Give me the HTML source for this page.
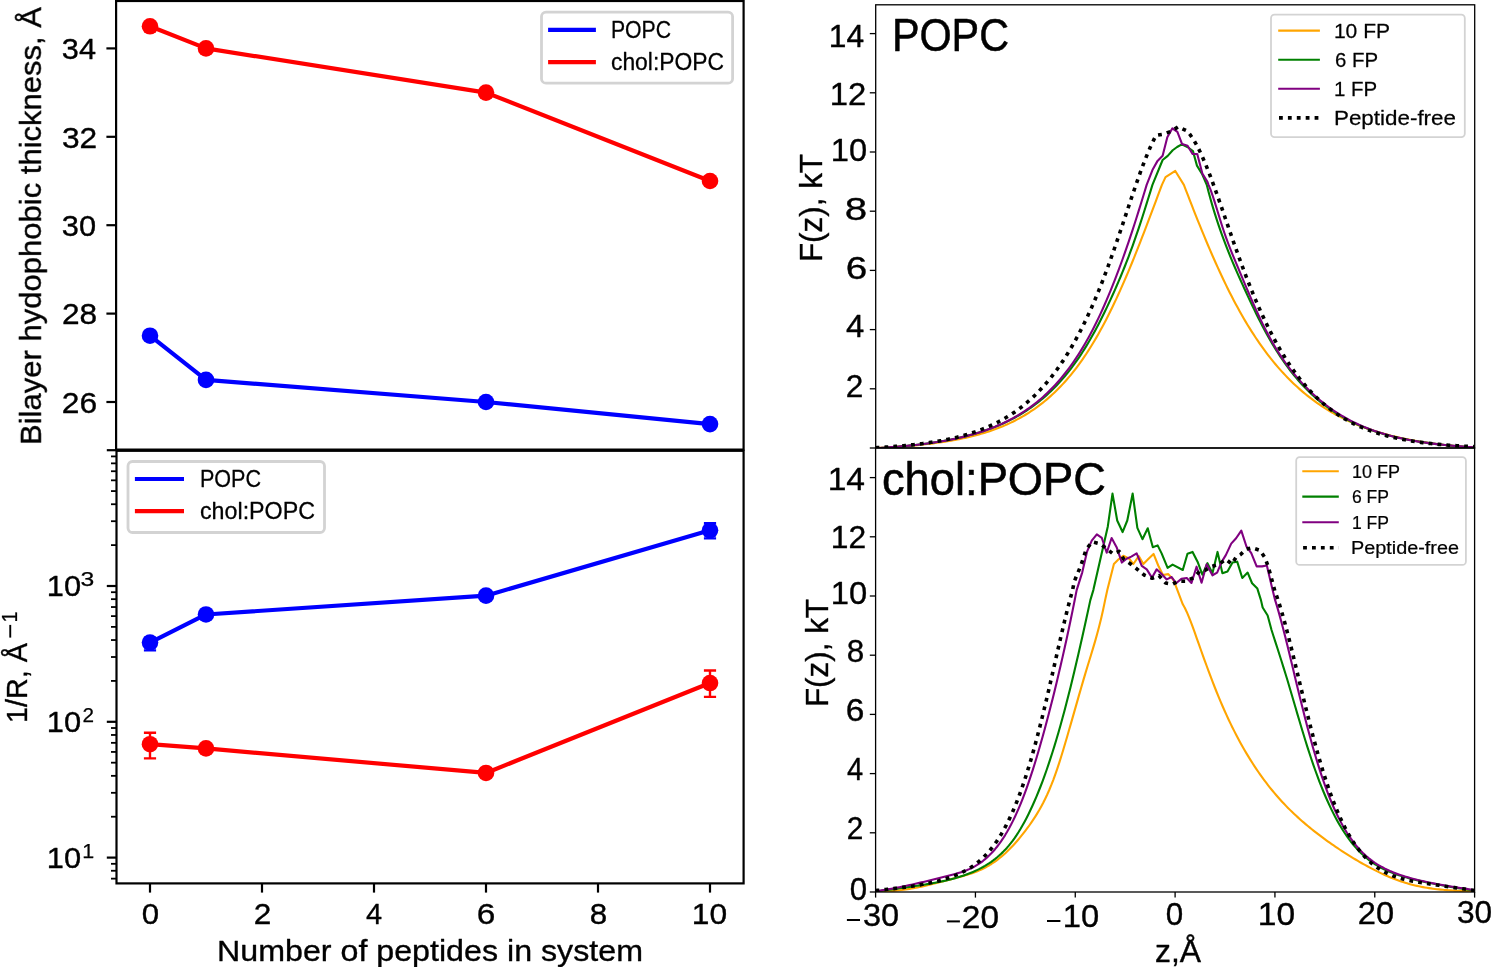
<!DOCTYPE html>
<html><head><meta charset="utf-8"><title>Figure</title><style>html,body{margin:0;padding:0;background:#fff;}svg{display:block;}text{font-family:"Liberation Sans",sans-serif;}</style></head><body>
<svg width="1492" height="967" viewBox="0 0 1492 967"><rect x="0" y="0" width="1492" height="967" fill="#fff"/>
<defs><clipPath id="cTL"><rect x="116" y="0" width="628" height="450"/></clipPath><clipPath id="cBL"><rect x="116" y="450" width="628" height="434"/></clipPath><clipPath id="cTR"><rect x="875.6" y="4.8" width="599" height="443.2"/></clipPath><clipPath id="cBR"><rect x="875.6" y="448" width="599" height="444"/></clipPath></defs>
<polyline points="150,335.7 206,379.9 486,402 710,424.1" fill="none" stroke="#0000ff" stroke-width="4.2" stroke-linejoin="round" stroke-linecap="butt"/>
<circle cx="150" cy="335.7" r="8.3" fill="#0000ff"/>
<circle cx="206" cy="379.9" r="8.3" fill="#0000ff"/>
<circle cx="486" cy="402" r="8.3" fill="#0000ff"/>
<circle cx="710" cy="424.1" r="8.3" fill="#0000ff"/>
<polyline points="150,26.3 206,48.4 486,92.6 710,181" fill="none" stroke="#ff0000" stroke-width="4.2" stroke-linejoin="round" stroke-linecap="butt"/>
<circle cx="150" cy="26.3" r="8.3" fill="#ff0000"/>
<circle cx="206" cy="48.4" r="8.3" fill="#ff0000"/>
<circle cx="486" cy="92.6" r="8.3" fill="#ff0000"/>
<circle cx="710" cy="181" r="8.3" fill="#ff0000"/>
<line x1="106.4" y1="402" x2="116" y2="402" stroke="#000" stroke-width="2.2"/>
<line x1="106.4" y1="313.6" x2="116" y2="313.6" stroke="#000" stroke-width="2.2"/>
<line x1="106.4" y1="225.2" x2="116" y2="225.2" stroke="#000" stroke-width="2.2"/>
<line x1="106.4" y1="136.8" x2="116" y2="136.8" stroke="#000" stroke-width="2.2"/>
<line x1="106.4" y1="48.4" x2="116" y2="48.4" stroke="#000" stroke-width="2.2"/>
<rect x="541.5" y="12.1" width="191.1" height="71.1" rx="4.5" fill="#fff" stroke="#d3d3d3" stroke-width="2.8"/>
<line x1="548.1" y1="29.9" x2="595.9" y2="29.9" stroke="#0000ff" stroke-width="4.2"/>
<line x1="548.1" y1="62.1" x2="595.9" y2="62.1" stroke="#ff0000" stroke-width="4.2"/>
<rect x="116.1" y="1.0" width="627.5" height="448.6" fill="none" stroke="#000" stroke-width="2.2"/>
<polyline points="150,642.6 206,614.48 486,595.65 710,530.33" fill="none" stroke="#0000ff" stroke-width="4.2" stroke-linejoin="round"/>
<path d="M150 637.6V650.4M143.9 637.6H156.1M143.9 650.4H156.1" stroke="#0000ff" stroke-width="2.4" fill="none"/>
<circle cx="150" cy="642.6" r="8.3" fill="#0000ff"/>
<circle cx="206" cy="614.48" r="8.3" fill="#0000ff"/>
<circle cx="486" cy="595.65" r="8.3" fill="#0000ff"/>
<path d="M710 523.23V538.33M703.9 523.23H716.1M703.9 538.33H716.1" stroke="#0000ff" stroke-width="2.4" fill="none"/>
<circle cx="710" cy="530.33" r="8.3" fill="#0000ff"/>
<polyline points="150,744.2 206,748.4 486,772.96 710,683.02" fill="none" stroke="#ff0000" stroke-width="4.2" stroke-linejoin="round"/>
<path d="M150 732.8V758.4M143.9 732.8H156.1M143.9 758.4H156.1" stroke="#ff0000" stroke-width="2.4" fill="none"/>
<circle cx="150" cy="744.2" r="8.3" fill="#ff0000"/>
<circle cx="206" cy="748.4" r="8.3" fill="#ff0000"/>
<circle cx="486" cy="772.96" r="8.3" fill="#ff0000"/>
<path d="M710 670.52V696.92M703.9 670.52H716.1M703.9 696.92H716.1" stroke="#ff0000" stroke-width="2.4" fill="none"/>
<circle cx="710" cy="683.02" r="8.3" fill="#ff0000"/>
<line x1="106.8" y1="857.6" x2="116.5" y2="857.6" stroke="#000" stroke-width="2.2"/>
<line x1="106.8" y1="721.8" x2="116.5" y2="721.8" stroke="#000" stroke-width="2.2"/>
<line x1="106.8" y1="586" x2="116.5" y2="586" stroke="#000" stroke-width="2.2"/>
<line x1="106.8" y1="450.2" x2="116.5" y2="450.2" stroke="#000" stroke-width="2.2"/>
<line x1="111.0" y1="878.64" x2="116.5" y2="878.64" stroke="#000" stroke-width="1.8"/>
<line x1="111.0" y1="870.76" x2="116.5" y2="870.76" stroke="#000" stroke-width="1.8"/>
<line x1="111.0" y1="863.81" x2="116.5" y2="863.81" stroke="#000" stroke-width="1.8"/>
<line x1="111.0" y1="816.72" x2="116.5" y2="816.72" stroke="#000" stroke-width="1.8"/>
<line x1="111.0" y1="792.81" x2="116.5" y2="792.81" stroke="#000" stroke-width="1.8"/>
<line x1="111.0" y1="775.84" x2="116.5" y2="775.84" stroke="#000" stroke-width="1.8"/>
<line x1="111.0" y1="762.68" x2="116.5" y2="762.68" stroke="#000" stroke-width="1.8"/>
<line x1="111.0" y1="751.93" x2="116.5" y2="751.93" stroke="#000" stroke-width="1.8"/>
<line x1="111.0" y1="742.84" x2="116.5" y2="742.84" stroke="#000" stroke-width="1.8"/>
<line x1="111.0" y1="734.96" x2="116.5" y2="734.96" stroke="#000" stroke-width="1.8"/>
<line x1="111.0" y1="728.01" x2="116.5" y2="728.01" stroke="#000" stroke-width="1.8"/>
<line x1="111.0" y1="680.92" x2="116.5" y2="680.92" stroke="#000" stroke-width="1.8"/>
<line x1="111.0" y1="657.01" x2="116.5" y2="657.01" stroke="#000" stroke-width="1.8"/>
<line x1="111.0" y1="640.04" x2="116.5" y2="640.04" stroke="#000" stroke-width="1.8"/>
<line x1="111.0" y1="626.88" x2="116.5" y2="626.88" stroke="#000" stroke-width="1.8"/>
<line x1="111.0" y1="616.13" x2="116.5" y2="616.13" stroke="#000" stroke-width="1.8"/>
<line x1="111.0" y1="607.04" x2="116.5" y2="607.04" stroke="#000" stroke-width="1.8"/>
<line x1="111.0" y1="599.16" x2="116.5" y2="599.16" stroke="#000" stroke-width="1.8"/>
<line x1="111.0" y1="592.21" x2="116.5" y2="592.21" stroke="#000" stroke-width="1.8"/>
<line x1="111.0" y1="545.12" x2="116.5" y2="545.12" stroke="#000" stroke-width="1.8"/>
<line x1="111.0" y1="521.21" x2="116.5" y2="521.21" stroke="#000" stroke-width="1.8"/>
<line x1="111.0" y1="504.24" x2="116.5" y2="504.24" stroke="#000" stroke-width="1.8"/>
<line x1="111.0" y1="491.08" x2="116.5" y2="491.08" stroke="#000" stroke-width="1.8"/>
<line x1="111.0" y1="480.33" x2="116.5" y2="480.33" stroke="#000" stroke-width="1.8"/>
<line x1="111.0" y1="471.24" x2="116.5" y2="471.24" stroke="#000" stroke-width="1.8"/>
<line x1="111.0" y1="463.36" x2="116.5" y2="463.36" stroke="#000" stroke-width="1.8"/>
<line x1="111.0" y1="456.41" x2="116.5" y2="456.41" stroke="#000" stroke-width="1.8"/>
<line x1="150" y1="883.4" x2="150" y2="892.6" stroke="#000" stroke-width="2.2"/>
<line x1="262" y1="883.4" x2="262" y2="892.6" stroke="#000" stroke-width="2.2"/>
<line x1="374" y1="883.4" x2="374" y2="892.6" stroke="#000" stroke-width="2.2"/>
<line x1="486" y1="883.4" x2="486" y2="892.6" stroke="#000" stroke-width="2.2"/>
<line x1="598" y1="883.4" x2="598" y2="892.6" stroke="#000" stroke-width="2.2"/>
<line x1="710" y1="883.4" x2="710" y2="892.6" stroke="#000" stroke-width="2.2"/>
<rect x="128.0" y="461.5" width="196.5" height="71.0" rx="4.5" fill="#fff" stroke="#d3d3d3" stroke-width="2.8"/>
<line x1="134.9" y1="479" x2="184" y2="479" stroke="#0000ff" stroke-width="4.2"/>
<line x1="134.9" y1="511.2" x2="184" y2="511.2" stroke="#ff0000" stroke-width="4.2"/>
<rect x="116.5" y="450.8" width="627.1" height="432.6" fill="none" stroke="#000" stroke-width="2.2"/>
<g clip-path="url(#cTR)" fill="none" stroke-linejoin="round"><path d="M875.6 448 L877.59 448 L879.58 447.9 L881.57 447.79 L883.55 447.68 L885.54 447.57 L887.53 447.45 L889.52 447.33 L891.51 447.21 L893.5 447.08 L895.48 446.95 L897.47 446.81 L899.46 446.67 L901.45 446.52 L903.44 446.37 L905.43 446.21 L907.41 446.05 L909.4 445.88 L911.39 445.7 L913.38 445.52 L915.37 445.34 L917.36 445.14 L919.34 444.94 L921.33 444.74 L923.32 444.52 L925.31 444.3 L927.3 444.08 L929.29 443.84 L931.27 443.6 L933.26 443.34 L935.25 443.08 L937.24 442.81 L939.23 442.53 L941.22 442.24 L943.2 441.95 L945.19 441.64 L947.18 441.32 L949.17 440.99 L951.16 440.65 L953.15 440.29 L955.13 439.93 L957.12 439.55 L959.11 439.16 L961.1 438.75 L963.09 438.33 L965.08 437.9 L967.06 437.45 L969.05 436.99 L971.04 436.51 L973.03 436.02 L975.02 435.5 L977.01 434.98 L978.99 434.43 L980.98 433.86 L982.97 433.28 L984.96 432.67 L986.95 432.04 L988.94 431.4 L990.92 430.73 L992.91 430.04 L994.9 429.32 L996.89 428.58 L998.88 427.82 L1000.87 427.03 L1002.85 426.21 L1004.84 425.37 L1006.83 424.5 L1008.82 423.59 L1010.81 422.66 L1012.8 421.7 L1014.78 420.71 L1016.77 419.68 L1018.76 418.62 L1020.75 417.52 L1022.74 416.39 L1024.73 415.23 L1026.71 414.02 L1028.7 412.77 L1030.69 411.49 L1032.68 410.16 L1034.67 408.79 L1036.66 407.37 L1038.64 405.92 L1040.63 404.41 L1042.62 402.86 L1044.61 401.25 L1046.6 399.6 L1048.59 397.9 L1050.57 396.14 L1052.56 394.32 L1054.55 392.46 L1056.54 390.53 L1058.53 388.55 L1060.52 386.5 L1062.5 384.39 L1064.49 382.22 L1066.48 379.99 L1068.47 377.68 L1070.46 375.31 L1072.45 372.87 L1074.43 370.36 L1076.42 367.78 L1078.41 365.12 L1080.4 362.39 L1082.39 359.57 L1084.38 356.68 L1086.36 353.71 L1088.35 350.66 L1090.34 347.52 L1092.33 344.3 L1094.32 341 L1096.31 337.62 L1098.29 334.15 L1100.28 330.59 L1102.27 326.95 L1104.26 323.22 L1106.25 319.41 L1108.24 315.52 L1110.22 311.54 L1112.21 307.47 L1114.2 303.32 L1116.19 299.09 L1118.18 294.78 L1120.17 290.39 L1122.16 285.92 L1124.14 281.38 L1126.13 276.76 L1128.12 272.07 L1130.11 267.3 L1132.1 262.48 L1134.09 257.58 L1136.07 252.63 L1138.06 247.62 L1140.05 242.56 L1142.04 237.45 L1144.03 232.3 L1146.02 227.11 L1148 221.88 L1149.99 216.63 L1151.98 211.35 L1153.97 206.06 L1155.96 200.76 L1157.95 195.45 L1159.93 190.15 L1161.92 184.86 L1165.52 177.16 L1175.3 170.94 L1183.89 184.85 L1185.88 190.03 L1187.87 195.19 L1189.86 200.33 L1191.85 205.44 L1193.84 210.51 L1195.83 215.54 L1197.82 220.52 L1199.81 225.47 L1201.81 230.36 L1203.8 235.2 L1205.79 239.99 L1207.78 244.72 L1209.77 249.39 L1211.76 254 L1213.75 258.54 L1215.74 263.02 L1217.74 267.43 L1219.73 271.78 L1221.72 276.05 L1223.71 280.25 L1225.7 284.38 L1227.69 288.44 L1229.68 292.42 L1231.67 296.34 L1233.67 300.17 L1235.66 303.93 L1237.65 307.62 L1239.64 311.23 L1241.63 314.77 L1243.62 318.23 L1245.61 321.62 L1247.6 324.93 L1249.59 328.17 L1251.59 331.34 L1253.58 334.44 L1255.57 337.47 L1257.56 340.43 L1259.55 343.33 L1261.54 346.16 L1263.53 348.92 L1265.52 351.62 L1267.52 354.26 L1269.51 356.84 L1271.5 359.36 L1273.49 361.82 L1275.48 364.22 L1277.47 366.56 L1279.46 368.85 L1281.45 371.09 L1283.45 373.26 L1285.44 375.39 L1287.43 377.47 L1289.42 379.49 L1291.41 381.47 L1293.4 383.39 L1295.39 385.27 L1297.38 387.1 L1299.37 388.89 L1301.37 390.63 L1303.36 392.33 L1305.35 393.99 L1307.34 395.6 L1309.33 397.17 L1311.32 398.7 L1313.31 400.2 L1315.3 401.65 L1317.3 403.07 L1319.29 404.45 L1321.28 405.79 L1323.27 407.1 L1325.26 408.37 L1327.25 409.61 L1329.24 410.82 L1331.23 412 L1333.23 413.14 L1335.22 414.26 L1337.21 415.34 L1339.2 416.4 L1341.19 417.43 L1343.18 418.42 L1345.17 419.4 L1347.16 420.34 L1349.15 421.26 L1351.15 422.16 L1353.14 423.03 L1355.13 423.88 L1357.12 424.7 L1359.11 425.5 L1361.1 426.28 L1363.09 427.04 L1365.08 427.77 L1367.08 428.49 L1369.07 429.18 L1371.06 429.86 L1373.05 430.52 L1375.04 431.15 L1377.03 431.78 L1379.02 432.38 L1381.01 432.96 L1383 433.53 L1385 434.09 L1386.99 434.62 L1388.98 435.15 L1390.97 435.65 L1392.96 436.15 L1394.95 436.63 L1396.94 437.09 L1398.93 437.54 L1400.93 437.98 L1402.92 438.41 L1404.91 438.82 L1406.9 439.22 L1408.89 439.61 L1410.88 439.99 L1412.87 440.36 L1414.86 440.71 L1416.86 441.06 L1418.85 441.39 L1420.84 441.72 L1422.83 442.04 L1424.82 442.35 L1426.81 442.64 L1428.8 442.93 L1430.79 443.21 L1432.78 443.49 L1434.78 443.75 L1436.77 444.01 L1438.76 444.26 L1440.75 444.5 L1442.74 444.73 L1444.73 444.96 L1446.72 445.18 L1448.71 445.4 L1450.71 445.61 L1452.7 445.81 L1454.69 446 L1456.68 446.19 L1458.67 446.38 L1460.66 446.56 L1462.65 446.73 L1464.64 446.9 L1466.64 447.06 L1468.63 447.22 L1470.62 447.37 L1472.61 447.52 L1474.6 447.67" stroke="#ffa500" stroke-width="2.1"/><path d="M875.6 448 L877.59 448 L879.58 448 L881.57 447.91 L883.57 447.77 L885.56 447.64 L887.55 447.49 L889.54 447.35 L891.53 447.19 L893.52 447.04 L895.52 446.87 L897.51 446.71 L899.5 446.53 L901.49 446.36 L903.48 446.17 L905.47 445.98 L907.47 445.79 L909.46 445.59 L911.45 445.38 L913.44 445.16 L915.43 444.94 L917.42 444.71 L919.42 444.48 L921.41 444.23 L923.4 443.98 L925.39 443.72 L927.38 443.45 L929.37 443.18 L931.37 442.89 L933.36 442.6 L935.35 442.3 L937.34 441.98 L939.33 441.66 L941.32 441.32 L943.32 440.98 L945.31 440.62 L947.3 440.26 L949.29 439.88 L951.28 439.49 L953.27 439.08 L955.27 438.67 L957.26 438.24 L959.25 437.79 L961.24 437.33 L963.23 436.86 L965.22 436.37 L967.22 435.87 L969.21 435.35 L971.2 434.81 L973.19 434.26 L975.18 433.69 L977.17 433.1 L979.17 432.49 L981.16 431.86 L983.15 431.21 L985.14 430.54 L987.13 429.85 L989.12 429.13 L991.12 428.4 L993.11 427.64 L995.1 426.86 L997.09 426.05 L999.08 425.21 L1001.07 424.35 L1003.06 423.46 L1005.06 422.54 L1007.05 421.6 L1009.04 420.62 L1011.03 419.61 L1013.02 418.57 L1015.01 417.5 L1017.01 416.39 L1019 415.25 L1020.99 414.07 L1022.98 412.85 L1024.97 411.59 L1026.96 410.3 L1028.96 408.96 L1030.95 407.58 L1032.94 406.16 L1034.93 404.69 L1036.92 403.18 L1038.91 401.62 L1040.91 400.01 L1042.9 398.35 L1044.89 396.63 L1046.88 394.87 L1048.87 393.04 L1050.86 391.16 L1052.86 389.23 L1054.85 387.23 L1056.84 385.16 L1058.83 383.04 L1060.82 380.85 L1062.81 378.59 L1064.81 376.26 L1066.8 373.85 L1068.79 371.37 L1070.78 368.82 L1072.77 366.19 L1074.76 363.47 L1076.76 360.67 L1078.75 357.79 L1080.74 354.82 L1082.73 351.75 L1084.72 348.6 L1086.71 345.35 L1088.71 342 L1090.7 338.57 L1092.69 335.04 L1094.68 331.42 L1096.67 327.71 L1098.66 323.91 L1100.66 320.02 L1102.65 316.05 L1104.64 311.99 L1106.63 307.86 L1108.62 303.65 L1110.61 299.36 L1112.61 295 L1114.6 290.57 L1116.59 286.04 L1118.58 281.43 L1120.57 276.72 L1122.56 271.91 L1124.55 266.99 L1126.55 261.95 L1128.54 256.79 L1130.53 251.48 L1132.52 246.03 L1134.51 240.44 L1136.5 234.7 L1138.5 228.82 L1140.49 222.82 L1142.48 216.71 L1144.47 210.49 L1146.46 204.18 L1148.45 197.8 L1150.45 191.35 L1152.44 184.86 L1162.62 159.99 L1167.71 155.85 L1172.7 150.22 L1177.1 146.97 L1181.79 144.3 L1187.88 147.26 L1192.97 151.11 L1196.96 165.62 L1202.35 174.5 L1206.75 184.85 L1208.73 192.49 L1210.72 199.72 L1212.7 206.59 L1214.68 213.13 L1216.67 219.38 L1218.65 225.36 L1220.64 231.1 L1222.62 236.63 L1224.6 241.97 L1226.59 247.14 L1228.57 252.17 L1230.56 257.06 L1232.54 261.83 L1234.52 266.5 L1236.51 271.08 L1238.49 275.59 L1240.48 280.03 L1242.46 284.41 L1244.44 288.75 L1246.43 293.05 L1248.41 297.32 L1250.4 301.55 L1252.38 305.73 L1254.37 309.87 L1256.35 313.94 L1258.33 317.94 L1260.32 321.87 L1262.3 325.71 L1264.29 329.47 L1266.27 333.15 L1268.25 336.73 L1270.24 340.23 L1272.22 343.64 L1274.21 346.95 L1276.19 350.17 L1278.17 353.3 L1280.16 356.33 L1282.14 359.28 L1284.13 362.15 L1286.11 364.93 L1288.1 367.63 L1290.08 370.25 L1292.06 372.8 L1294.05 375.27 L1296.03 377.66 L1298.02 379.99 L1300 382.24 L1301.98 384.43 L1303.97 386.55 L1305.95 388.61 L1307.94 390.6 L1309.92 392.53 L1311.9 394.41 L1313.89 396.22 L1315.87 397.99 L1317.86 399.69 L1319.84 401.35 L1321.82 402.95 L1323.81 404.5 L1325.79 406.01 L1327.78 407.46 L1329.76 408.88 L1331.75 410.24 L1333.73 411.57 L1335.71 412.85 L1337.7 414.09 L1339.68 415.29 L1341.67 416.46 L1343.65 417.58 L1345.63 418.68 L1347.62 419.73 L1349.6 420.76 L1351.59 421.74 L1353.57 422.7 L1355.55 423.63 L1357.54 424.53 L1359.52 425.4 L1361.51 426.24 L1363.49 427.05 L1365.47 427.84 L1367.46 428.6 L1369.44 429.34 L1371.43 430.05 L1373.41 430.74 L1375.4 431.41 L1377.38 432.05 L1379.36 432.68 L1381.35 433.28 L1383.33 433.87 L1385.32 434.43 L1387.3 434.98 L1389.28 435.51 L1391.27 436.02 L1393.25 436.51 L1395.24 436.99 L1397.22 437.46 L1399.2 437.91 L1401.19 438.34 L1403.17 438.76 L1405.16 439.16 L1407.14 439.56 L1409.12 439.94 L1411.11 440.3 L1413.09 440.66 L1415.08 441 L1417.06 441.34 L1419.05 441.66 L1421.03 441.97 L1423.01 442.27 L1425 442.56 L1426.98 442.84 L1428.97 443.12 L1430.95 443.38 L1432.93 443.63 L1434.92 443.88 L1436.9 444.12 L1438.89 444.35 L1440.87 444.57 L1442.85 444.79 L1444.84 445 L1446.82 445.2 L1448.81 445.4 L1450.79 445.59 L1452.77 445.77 L1454.76 445.95 L1456.74 446.12 L1458.73 446.29 L1460.71 446.45 L1462.7 446.61 L1464.68 446.76 L1466.66 446.9 L1468.65 447.04 L1470.63 447.18 L1472.62 447.31 L1474.6 447.44" stroke="#008000" stroke-width="2.1"/><path d="M875.6 448 L877.59 448 L879.59 447.99 L881.58 447.86 L883.57 447.73 L885.56 447.6 L887.56 447.46 L889.55 447.31 L891.54 447.17 L893.54 447.01 L895.53 446.85 L897.52 446.69 L899.52 446.52 L901.51 446.35 L903.5 446.17 L905.49 445.98 L907.49 445.79 L909.48 445.59 L911.47 445.39 L913.47 445.17 L915.46 444.95 L917.45 444.73 L919.45 444.5 L921.44 444.26 L923.43 444.01 L925.42 443.75 L927.42 443.48 L929.41 443.21 L931.4 442.93 L933.4 442.63 L935.39 442.33 L937.38 442.02 L939.38 441.7 L941.37 441.36 L943.36 441.02 L945.35 440.66 L947.35 440.3 L949.34 439.92 L951.33 439.52 L953.33 439.12 L955.32 438.7 L957.31 438.27 L959.31 437.82 L961.3 437.36 L963.29 436.88 L965.28 436.39 L967.28 435.88 L969.27 435.35 L971.26 434.81 L973.26 434.24 L975.25 433.66 L977.24 433.06 L979.24 432.44 L981.23 431.8 L983.22 431.14 L985.21 430.45 L987.21 429.75 L989.2 429.02 L991.19 428.26 L993.19 427.48 L995.18 426.68 L997.17 425.84 L999.17 424.98 L1001.16 424.1 L1003.15 423.18 L1005.14 422.23 L1007.14 421.25 L1009.13 420.24 L1011.12 419.19 L1013.12 418.11 L1015.11 417 L1017.1 415.85 L1019.1 414.66 L1021.09 413.43 L1023.08 412.16 L1025.07 410.85 L1027.07 409.49 L1029.06 408.09 L1031.05 406.65 L1033.05 405.16 L1035.04 403.62 L1037.03 402.03 L1039.03 400.39 L1041.02 398.69 L1043.01 396.94 L1045 395.13 L1047 393.27 L1048.99 391.34 L1050.98 389.35 L1052.98 387.3 L1054.97 385.18 L1056.96 383 L1058.96 380.74 L1060.95 378.41 L1062.94 376.01 L1064.93 373.53 L1066.93 370.97 L1068.92 368.33 L1070.91 365.61 L1072.91 362.8 L1074.9 359.9 L1076.89 356.92 L1078.89 353.83 L1080.88 350.65 L1082.87 347.38 L1084.86 344 L1086.86 340.51 L1088.85 336.92 L1090.84 333.23 L1092.84 329.42 L1094.83 325.51 L1096.82 321.49 L1098.82 317.35 L1100.81 313.1 L1102.8 308.73 L1104.79 304.25 L1106.79 299.66 L1108.78 294.95 L1110.77 290.12 L1112.77 285.18 L1114.76 280.12 L1116.75 274.95 L1118.75 269.66 L1120.74 264.26 L1122.73 258.75 L1124.72 253.13 L1126.72 247.39 L1128.71 241.56 L1130.7 235.62 L1132.7 229.58 L1134.69 223.45 L1136.68 217.22 L1138.68 210.9 L1140.67 204.5 L1142.66 198.02 L1144.65 191.47 L1146.65 184.85 L1152.44 170.06 L1157.53 160.88 L1162.62 155.85 L1167.31 137.2 L1172.4 128.32 L1177.4 131.87 L1182.09 144.01 L1187.58 145.78 L1192.57 154.07 L1197.26 154.07 L1202.35 173.61 L1207.45 181.9 L1208.54 184.85 L1210.53 189.72 L1212.52 195.29 L1214.5 201.36 L1216.49 207.74 L1218.47 214.25 L1220.46 220.73 L1222.44 227.03 L1224.43 233.03 L1226.41 238.67 L1228.4 244 L1230.38 249.11 L1232.37 254.04 L1234.36 258.86 L1236.34 263.61 L1238.33 268.34 L1240.31 273.09 L1242.3 277.85 L1244.28 282.59 L1246.27 287.31 L1248.25 292 L1250.24 296.64 L1252.22 301.21 L1254.21 305.71 L1256.2 310.14 L1258.18 314.47 L1260.17 318.71 L1262.15 322.84 L1264.14 326.87 L1266.12 330.79 L1268.11 334.59 L1270.09 338.28 L1272.08 341.84 L1274.07 345.29 L1276.05 348.61 L1278.04 351.8 L1280.02 354.88 L1282.01 357.86 L1283.99 360.73 L1285.98 363.5 L1287.96 366.18 L1289.95 368.78 L1291.93 371.3 L1293.92 373.75 L1295.91 376.12 L1297.89 378.43 L1299.88 380.67 L1301.86 382.85 L1303.85 384.98 L1305.83 387.04 L1307.82 389.05 L1309.8 391.01 L1311.79 392.91 L1313.78 394.76 L1315.76 396.55 L1317.75 398.29 L1319.73 399.99 L1321.72 401.63 L1323.7 403.23 L1325.69 404.77 L1327.67 406.28 L1329.66 407.73 L1331.64 409.15 L1333.63 410.52 L1335.62 411.85 L1337.6 413.13 L1339.59 414.38 L1341.57 415.59 L1343.56 416.77 L1345.54 417.9 L1347.53 419 L1349.51 420.06 L1351.5 421.1 L1353.49 422.09 L1355.47 423.06 L1357.46 424 L1359.44 424.9 L1361.43 425.78 L1363.41 426.62 L1365.4 427.44 L1367.38 428.23 L1369.37 429 L1371.35 429.74 L1373.34 430.46 L1375.33 431.15 L1377.31 431.82 L1379.3 432.47 L1381.28 433.09 L1383.27 433.7 L1385.25 434.28 L1387.24 434.85 L1389.22 435.39 L1391.21 435.92 L1393.19 436.43 L1395.18 436.92 L1397.17 437.4 L1399.15 437.86 L1401.14 438.3 L1403.12 438.73 L1405.11 439.14 L1407.09 439.54 L1409.08 439.93 L1411.06 440.3 L1413.05 440.66 L1415.04 441.01 L1417.02 441.34 L1419.01 441.67 L1420.99 441.98 L1422.98 442.28 L1424.96 442.57 L1426.95 442.85 L1428.93 443.13 L1430.92 443.39 L1432.9 443.64 L1434.89 443.89 L1436.88 444.12 L1438.86 444.35 L1440.85 444.57 L1442.83 444.78 L1444.82 444.99 L1446.8 445.18 L1448.79 445.38 L1450.77 445.56 L1452.76 445.74 L1454.75 445.91 L1456.73 446.08 L1458.72 446.24 L1460.7 446.39 L1462.69 446.54 L1464.67 446.68 L1466.66 446.82 L1468.64 446.96 L1470.63 447.08 L1472.61 447.21 L1474.6 447.33" stroke="#800080" stroke-width="2.1"/><path d="M875.6 447.75 L877.59 447.63 L879.58 447.52 L881.57 447.39 L883.56 447.26 L885.55 447.13 L887.54 446.99 L889.53 446.85 L891.52 446.7 L893.51 446.55 L895.5 446.39 L897.49 446.23 L899.48 446.06 L901.46 445.88 L903.45 445.7 L905.44 445.51 L907.43 445.31 L909.42 445.1 L911.41 444.89 L913.4 444.67 L915.39 444.44 L917.38 444.21 L919.37 443.96 L921.36 443.71 L923.35 443.44 L925.34 443.17 L927.33 442.89 L929.32 442.59 L931.31 442.29 L933.3 441.97 L935.29 441.65 L937.28 441.31 L939.27 440.95 L941.26 440.59 L943.25 440.21 L945.24 439.82 L947.23 439.41 L949.21 438.99 L951.2 438.55 L953.19 438.1 L955.18 437.63 L957.17 437.14 L959.16 436.63 L961.15 436.11 L963.14 435.56 L965.13 435 L967.12 434.42 L969.11 433.81 L971.1 433.18 L973.09 432.53 L975.08 431.86 L977.07 431.16 L979.06 430.43 L981.05 429.68 L983.04 428.9 L985.03 428.1 L987.02 427.26 L989.01 426.39 L991 425.5 L992.99 424.57 L994.98 423.6 L996.96 422.61 L998.95 421.58 L1000.94 420.51 L1002.93 419.4 L1004.92 418.25 L1006.91 417.07 L1008.9 415.84 L1010.89 414.57 L1012.88 413.25 L1014.87 411.89 L1016.86 410.48 L1018.85 409.02 L1020.84 407.52 L1022.83 405.96 L1024.82 404.34 L1026.81 402.68 L1028.8 400.95 L1030.79 399.17 L1032.78 397.33 L1034.77 395.43 L1036.76 393.47 L1038.75 391.44 L1040.74 389.34 L1042.73 387.18 L1044.71 384.94 L1046.7 382.64 L1048.69 380.26 L1050.68 377.8 L1052.67 375.27 L1054.66 372.66 L1056.65 369.97 L1058.64 367.19 L1060.63 364.33 L1062.62 361.38 L1064.61 358.35 L1066.6 355.22 L1068.59 352 L1070.58 348.69 L1072.57 345.28 L1074.56 341.77 L1076.55 338.16 L1078.54 334.46 L1080.53 330.64 L1082.52 326.72 L1084.51 322.7 L1086.5 318.57 L1088.49 314.32 L1090.48 309.97 L1092.46 305.5 L1094.45 300.91 L1096.44 296.21 L1098.43 291.4 L1100.42 286.46 L1102.41 281.41 L1104.4 276.23 L1106.39 270.94 L1108.38 265.54 L1110.37 260.04 L1112.36 254.44 L1114.35 248.75 L1116.34 242.99 L1118.33 237.16 L1120.32 231.27 L1122.31 225.34 L1124.3 219.39 L1126.29 213.42 L1128.28 207.45 L1130.27 201.5 L1132.26 195.59 L1134.25 189.74 L1136.24 183.96 L1138.23 178.28 L1140.21 172.72 L1142.2 167.31 L1144.19 162.06 L1146.18 157 L1148.17 152.15 L1150.16 147.55 L1152.15 143.2 L1154.14 139.15 L1156.13 135.41 L1162.92 134.24 L1171.31 131.28 L1178.19 126.84 L1186.48 130.68 L1188.47 132.74 L1190.46 135.19 L1192.44 138 L1194.43 141.16 L1196.42 144.65 L1198.4 148.43 L1200.39 152.5 L1202.38 156.83 L1204.36 161.4 L1206.35 166.17 L1208.34 171.14 L1210.33 176.27 L1212.31 181.55 L1214.3 186.96 L1216.29 192.47 L1218.27 198.07 L1220.26 203.73 L1222.25 209.44 L1224.23 215.18 L1226.22 220.94 L1228.21 226.69 L1230.2 232.43 L1232.18 238.14 L1234.17 243.81 L1236.16 249.42 L1238.14 254.97 L1240.13 260.45 L1242.12 265.85 L1244.1 271.16 L1246.09 276.37 L1248.08 281.47 L1250.07 286.48 L1252.05 291.38 L1254.04 296.18 L1256.03 300.88 L1258.01 305.47 L1260 309.95 L1261.99 314.33 L1263.98 318.61 L1265.96 322.78 L1267.95 326.85 L1269.94 330.82 L1271.92 334.68 L1273.91 338.45 L1275.9 342.11 L1277.88 345.67 L1279.87 349.14 L1281.86 352.51 L1283.85 355.78 L1285.83 358.96 L1287.82 362.05 L1289.81 365.05 L1291.79 367.96 L1293.78 370.79 L1295.77 373.52 L1297.75 376.18 L1299.74 378.75 L1301.73 381.24 L1303.72 383.65 L1305.7 385.98 L1307.69 388.25 L1309.68 390.43 L1311.66 392.55 L1313.65 394.6 L1315.64 396.57 L1317.62 398.49 L1319.61 400.34 L1321.6 402.12 L1323.59 403.85 L1325.57 405.51 L1327.56 407.12 L1329.55 408.68 L1331.53 410.18 L1333.52 411.62 L1335.51 413.02 L1337.5 414.37 L1339.48 415.66 L1341.47 416.92 L1343.46 418.13 L1345.44 419.29 L1347.43 420.41 L1349.42 421.49 L1351.4 422.54 L1353.39 423.54 L1355.38 424.51 L1357.37 425.44 L1359.35 426.34 L1361.34 427.21 L1363.33 428.04 L1365.31 428.84 L1367.3 429.62 L1369.29 430.36 L1371.27 431.08 L1373.26 431.77 L1375.25 432.43 L1377.24 433.07 L1379.22 433.68 L1381.21 434.27 L1383.2 434.84 L1385.18 435.39 L1387.17 435.92 L1389.16 436.43 L1391.14 436.92 L1393.13 437.38 L1395.12 437.84 L1397.11 438.27 L1399.09 438.69 L1401.08 439.09 L1403.07 439.48 L1405.05 439.85 L1407.04 440.21 L1409.03 440.55 L1411.02 440.88 L1413 441.2 L1414.99 441.51 L1416.98 441.8 L1418.96 442.08 L1420.95 442.35 L1422.94 442.62 L1424.92 442.87 L1426.91 443.11 L1428.9 443.34 L1430.89 443.56 L1432.87 443.78 L1434.86 443.98 L1436.85 444.18 L1438.83 444.37 L1440.82 444.55 L1442.81 444.72 L1444.79 444.89 L1446.78 445.05 L1448.77 445.2 L1450.76 445.35 L1452.74 445.49 L1454.73 445.63 L1456.72 445.76 L1458.7 445.88 L1460.69 446 L1462.68 446.11 L1464.66 446.22 L1466.65 446.32 L1468.64 446.42 L1470.63 446.52 L1472.61 446.61 L1474.6 446.69" stroke="#000" stroke-width="3.6" stroke-dasharray="3.8 5.1" stroke-linecap="butt"/></g>
<g clip-path="url(#cBR)" fill="none" stroke-linejoin="round"><path d="M875.6 892 L877.6 892 L879.59 891.93 L881.59 891.82 L883.58 891.7 L885.58 891.57 L887.57 891.43 L889.57 891.27 L891.57 891.1 L893.56 890.92 L895.56 890.72 L897.55 890.51 L899.55 890.28 L901.55 890.03 L903.54 889.77 L905.54 889.49 L907.53 889.2 L909.53 888.89 L911.52 888.56 L913.52 888.21 L915.52 887.84 L917.51 887.46 L919.51 887.06 L921.5 886.64 L923.5 886.21 L925.49 885.76 L927.49 885.29 L929.49 884.81 L931.48 884.32 L933.48 883.82 L935.47 883.3 L937.47 882.78 L939.47 882.26 L941.46 881.73 L943.46 881.2 L945.45 880.68 L947.45 880.15 L949.44 879.63 L951.44 879.11 L953.44 878.59 L955.43 878.06 L957.43 877.53 L959.42 876.99 L961.42 876.44 L963.42 875.87 L965.41 875.29 L967.41 874.69 L969.4 874.06 L971.4 873.4 L973.39 872.71 L975.39 871.97 L977.39 871.19 L979.38 870.36 L981.38 869.47 L983.37 868.51 L985.37 867.48 L987.36 866.39 L989.36 865.23 L991.36 863.99 L993.35 862.68 L995.35 861.29 L997.34 859.83 L999.34 858.28 L1001.34 856.66 L1003.33 854.95 L1005.33 853.16 L1007.32 851.28 L1009.32 849.33 L1011.31 847.29 L1013.31 845.17 L1015.31 842.97 L1017.3 840.69 L1019.3 838.35 L1021.29 835.93 L1023.29 833.45 L1025.28 830.89 L1027.28 828.24 L1029.28 825.5 L1031.27 822.66 L1033.27 819.7 L1035.26 816.62 L1037.26 813.39 L1039.26 810 L1041.25 806.44 L1043.25 802.68 L1045.24 798.7 L1047.24 794.48 L1049.23 789.99 L1051.23 785.19 L1053.23 780.07 L1055.22 774.62 L1057.22 768.86 L1059.21 762.82 L1061.21 756.52 L1063.21 750 L1065.2 743.3 L1067.2 736.48 L1069.19 729.58 L1071.19 722.62 L1073.18 715.63 L1075.18 708.62 L1077.18 701.61 L1079.17 694.63 L1081.17 687.71 L1083.16 680.86 L1085.16 674.12 L1087.15 667.51 L1089.15 660.99 L1091.15 654.48 L1093.14 647.89 L1095.14 641.12 L1097.13 634.06 L1099.13 626.57 L1101.13 618.53 L1103.12 609.78 L1105.12 600.15 L1107.31 590.08 L1113.9 564.03 L1118.59 559.3 L1123.29 555.74 L1129.28 558.7 L1133.37 564.03 L1138.76 556.04 L1143.35 564.03 L1148.54 558.7 L1153.54 553.97 L1158.23 565.51 L1162.92 574.98 L1168.31 574.1 L1173.7 580.31 L1182.79 604.28 L1184.77 607.79 L1186.76 611.93 L1188.74 616.57 L1190.73 621.61 L1192.71 626.94 L1194.7 632.45 L1196.68 638.04 L1198.67 643.65 L1200.65 649.23 L1202.64 654.79 L1204.62 660.3 L1206.61 665.75 L1208.59 671.14 L1210.58 676.44 L1212.56 681.64 L1214.55 686.75 L1216.53 691.75 L1218.52 696.63 L1220.5 701.39 L1222.49 706.03 L1224.47 710.54 L1226.46 714.93 L1228.44 719.21 L1230.43 723.38 L1232.42 727.45 L1234.4 731.4 L1236.39 735.26 L1238.37 739.01 L1240.36 742.67 L1242.34 746.24 L1244.33 749.72 L1246.31 753.11 L1248.3 756.41 L1250.28 759.63 L1252.27 762.78 L1254.25 765.84 L1256.24 768.83 L1258.22 771.74 L1260.21 774.59 L1262.19 777.36 L1264.18 780.07 L1266.16 782.71 L1268.15 785.28 L1270.13 787.8 L1272.12 790.25 L1274.1 792.65 L1276.09 794.99 L1278.07 797.27 L1280.06 799.5 L1282.04 801.67 L1284.03 803.8 L1286.01 805.88 L1288 807.9 L1289.98 809.88 L1291.97 811.82 L1293.95 813.72 L1295.94 815.57 L1297.92 817.39 L1299.91 819.18 L1301.89 820.93 L1303.88 822.65 L1305.86 824.34 L1307.85 826 L1309.83 827.63 L1311.82 829.24 L1313.81 830.83 L1315.79 832.38 L1317.78 833.92 L1319.76 835.43 L1321.75 836.93 L1323.73 838.4 L1325.72 839.85 L1327.7 841.28 L1329.69 842.7 L1331.67 844.1 L1333.66 845.47 L1335.64 846.83 L1337.63 848.18 L1339.61 849.5 L1341.6 850.81 L1343.58 852.1 L1345.57 853.38 L1347.55 854.64 L1349.54 855.88 L1351.52 857.1 L1353.51 858.31 L1355.49 859.5 L1357.48 860.67 L1359.46 861.83 L1361.45 862.97 L1363.43 864.09 L1365.42 865.19 L1367.4 866.28 L1369.39 867.34 L1371.37 868.39 L1373.36 869.42 L1375.34 870.43 L1377.33 871.42 L1379.31 872.39 L1381.3 873.34 L1383.28 874.27 L1385.27 875.17 L1387.25 876.06 L1389.24 876.91 L1391.22 877.74 L1393.21 878.54 L1395.2 879.32 L1397.18 880.06 L1399.17 880.77 L1401.15 881.45 L1403.14 882.11 L1405.12 882.73 L1407.11 883.32 L1409.09 883.89 L1411.08 884.43 L1413.06 884.94 L1415.05 885.42 L1417.03 885.88 L1419.02 886.31 L1421 886.72 L1422.99 887.1 L1424.97 887.46 L1426.96 887.8 L1428.94 888.11 L1430.93 888.41 L1432.91 888.69 L1434.9 888.95 L1436.88 889.19 L1438.87 889.41 L1440.85 889.61 L1442.84 889.8 L1444.82 889.97 L1446.81 890.13 L1448.79 890.27 L1450.78 890.4 L1452.76 890.51 L1454.75 890.61 L1456.73 890.7 L1458.72 890.77 L1460.7 890.83 L1462.69 890.87 L1464.67 890.9 L1466.66 890.92 L1468.64 890.92 L1470.63 890.91 L1472.61 890.88 L1474.6 890.84" stroke="#ffa500" stroke-width="2.1"/><path d="M875.6 891.5 L877.59 891.25 L879.58 891 L881.57 890.74 L883.55 890.48 L885.54 890.22 L887.53 889.96 L889.52 889.69 L891.51 889.42 L893.5 889.15 L895.48 888.88 L897.47 888.6 L899.46 888.32 L901.45 888.04 L903.44 887.76 L905.43 887.48 L907.41 887.19 L909.4 886.9 L911.39 886.61 L913.38 886.31 L915.37 886.02 L917.36 885.71 L919.34 885.41 L921.33 885.1 L923.32 884.78 L925.31 884.45 L927.3 884.12 L929.29 883.79 L931.27 883.44 L933.26 883.08 L935.25 882.72 L937.24 882.34 L939.23 881.94 L941.22 881.54 L943.2 881.11 L945.19 880.67 L947.18 880.21 L949.17 879.73 L951.16 879.23 L953.15 878.71 L955.13 878.16 L957.12 877.59 L959.11 876.99 L961.1 876.37 L963.09 875.71 L965.08 875.02 L967.06 874.3 L969.05 873.54 L971.04 872.75 L973.03 871.91 L975.02 871.03 L977.01 870.1 L978.99 869.13 L980.98 868.1 L982.97 867.02 L984.96 865.88 L986.95 864.67 L988.94 863.4 L990.92 862.05 L992.91 860.62 L994.9 859.12 L996.89 857.52 L998.88 855.82 L1000.87 854.03 L1002.85 852.12 L1004.84 850.09 L1006.83 847.93 L1008.82 845.64 L1010.81 843.2 L1012.8 840.6 L1014.78 837.83 L1016.77 834.9 L1018.76 831.79 L1020.75 828.52 L1022.74 825.06 L1024.73 821.44 L1026.71 817.65 L1028.7 813.68 L1030.69 809.56 L1032.68 805.25 L1034.67 800.78 L1036.66 796.12 L1038.64 791.27 L1040.63 786.25 L1042.62 781.03 L1044.61 775.61 L1046.6 770.01 L1048.59 764.21 L1050.57 758.2 L1052.56 752 L1054.55 745.61 L1056.54 739.01 L1058.53 732.21 L1060.52 725.22 L1062.5 718.03 L1064.49 710.65 L1066.48 703.08 L1068.47 695.33 L1070.46 687.4 L1072.45 679.3 L1074.43 671.03 L1076.42 662.61 L1078.41 654.04 L1080.4 645.33 L1082.39 636.49 L1084.38 627.54 L1086.36 618.49 L1088.35 609.36 L1090.34 600.15 L1093.34 590.08 L1107.81 526.44 L1112.5 493.58 L1117.2 520.52 L1122.59 532.06 L1127.28 520.52 L1132.67 493.58 L1137.36 527.92 L1142.45 539.17 L1147.75 528.22 L1152.84 547.16 L1157.63 545.38 L1161.62 553.38 L1167.61 567.88 L1172.6 564.62 L1182.79 569.95 L1187.48 553.67 L1192.57 551.9 L1197.56 561.66 L1202.35 574.69 L1207.45 563.14 L1212.44 573.21 L1217.53 551.9 L1222.42 573.21 L1227.51 571.43 L1232.5 562.55 L1237.2 561.66 L1242.29 577.94 L1247.68 572.62 L1252.07 583.27 L1257.36 588.6 L1260.96 600.14 L1262.65 607.54 L1267.65 615.54 L1271.54 630.05 L1273.53 636.22 L1275.52 642.37 L1277.51 648.53 L1279.5 654.73 L1281.49 660.99 L1283.48 667.33 L1285.47 673.76 L1287.47 680.31 L1289.46 686.97 L1291.45 693.71 L1293.44 700.5 L1295.43 707.3 L1297.42 714.09 L1299.41 720.82 L1301.4 727.49 L1303.39 734.07 L1305.38 740.52 L1307.37 746.85 L1309.36 753.02 L1311.35 759.03 L1313.35 764.86 L1315.34 770.51 L1317.33 775.98 L1319.32 781.26 L1321.31 786.35 L1323.3 791.26 L1325.29 795.99 L1327.28 800.54 L1329.27 804.91 L1331.26 809.1 L1333.25 813.12 L1335.24 816.98 L1337.24 820.66 L1339.23 824.18 L1341.22 827.54 L1343.21 830.74 L1345.2 833.78 L1347.19 836.68 L1349.18 839.43 L1351.17 842.04 L1353.16 844.52 L1355.15 846.87 L1357.14 849.09 L1359.13 851.19 L1361.12 853.18 L1363.12 855.06 L1365.11 856.83 L1367.1 858.5 L1369.09 860.07 L1371.08 861.55 L1373.07 862.94 L1375.06 864.25 L1377.05 865.48 L1379.04 866.63 L1381.03 867.72 L1383.02 868.74 L1385.01 869.7 L1387.01 870.61 L1389 871.47 L1390.99 872.29 L1392.98 873.06 L1394.97 873.8 L1396.96 874.51 L1398.95 875.18 L1400.94 875.82 L1402.93 876.43 L1404.92 877.02 L1406.91 877.59 L1408.9 878.14 L1410.89 878.66 L1412.89 879.17 L1414.88 879.67 L1416.87 880.14 L1418.86 880.61 L1420.85 881.06 L1422.84 881.5 L1424.83 881.93 L1426.82 882.35 L1428.81 882.76 L1430.8 883.16 L1432.79 883.56 L1434.78 883.95 L1436.77 884.33 L1438.77 884.7 L1440.76 885.07 L1442.75 885.43 L1444.74 885.79 L1446.73 886.15 L1448.72 886.5 L1450.71 886.84 L1452.7 887.18 L1454.69 887.51 L1456.68 887.84 L1458.67 888.17 L1460.66 888.49 L1462.66 888.81 L1464.65 889.12 L1466.64 889.43 L1468.63 889.73 L1470.62 890.03 L1472.61 890.32 L1474.6 890.61" stroke="#008000" stroke-width="2.1"/><path d="M875.6 891.25 L877.59 890.97 L879.58 890.67 L881.57 890.37 L883.56 890.06 L885.55 889.73 L887.54 889.4 L889.54 889.05 L891.53 888.7 L893.52 888.34 L895.51 887.97 L897.5 887.59 L899.49 887.2 L901.48 886.8 L903.47 886.39 L905.46 885.97 L907.45 885.55 L909.44 885.12 L911.43 884.68 L913.42 884.24 L915.41 883.78 L917.41 883.33 L919.4 882.86 L921.39 882.39 L923.38 881.92 L925.37 881.44 L927.36 880.96 L929.35 880.47 L931.34 879.98 L933.33 879.49 L935.32 879 L937.31 878.51 L939.3 878.01 L941.29 877.52 L943.29 877.02 L945.28 876.53 L947.27 876.03 L949.26 875.53 L951.25 875.02 L953.24 874.49 L955.23 873.95 L957.22 873.38 L959.21 872.79 L961.2 872.16 L963.19 871.49 L965.18 870.77 L967.17 869.99 L969.16 869.15 L971.16 868.23 L973.15 867.23 L975.14 866.14 L977.13 864.96 L979.12 863.68 L981.11 862.29 L983.1 860.8 L985.09 859.19 L987.08 857.46 L989.07 855.6 L991.06 853.6 L993.05 851.47 L995.04 849.19 L997.03 846.75 L999.03 844.15 L1001.02 841.39 L1003.01 838.44 L1005 835.32 L1006.99 832 L1008.98 828.49 L1010.97 824.78 L1012.96 820.86 L1014.95 816.73 L1016.94 812.38 L1018.93 807.82 L1020.92 803.03 L1022.91 798.02 L1024.91 792.78 L1026.9 787.31 L1028.89 781.62 L1030.88 775.71 L1032.87 769.58 L1034.86 763.23 L1036.85 756.69 L1038.84 749.94 L1040.83 743.02 L1042.82 735.94 L1044.81 728.69 L1046.8 721.3 L1048.79 713.74 L1050.78 706.03 L1052.78 698.16 L1054.77 690.14 L1056.76 681.95 L1058.75 673.6 L1060.74 665.08 L1062.73 656.39 L1064.72 647.52 L1066.71 638.47 L1068.7 629.22 L1070.69 619.76 L1072.68 610.1 L1074.67 600.21 L1076.66 590.08 L1082.25 572.32 L1086.95 551.9 L1091.74 540.65 L1096.83 534.43 L1101.82 537.98 L1106.71 552.78 L1111.61 537.98 L1116.6 547.16 L1121.89 562.55 L1126.58 558.7 L1131.27 556.63 L1136.66 553.38 L1141.76 565.81 L1146.75 569.36 L1151.94 577.65 L1156.63 569.36 L1161.62 574.1 L1166.71 579.42 L1171.71 577.06 L1176 583.27 L1181.39 578.83 L1186.78 577.94 L1191.47 582.98 L1196.56 566.7 L1201.56 582.68 L1206.65 564.33 L1212.44 575.28 L1217.13 572.62 L1221.82 561.66 L1225.82 555.15 L1231.21 543.61 L1236.1 538.28 L1241.29 530.58 L1246.38 546.27 L1251.27 553.08 L1256.66 566.4 L1262.05 566.4 L1266.85 565.51 L1272.24 588.6 L1275.13 600.14 L1277.13 606.68 L1279.12 613.63 L1281.12 620.93 L1283.11 628.52 L1285.11 636.35 L1287.1 644.37 L1289.1 652.53 L1291.09 660.78 L1293.09 669.09 L1295.08 677.41 L1297.07 685.71 L1299.07 693.94 L1301.06 702.08 L1303.06 710.11 L1305.05 717.99 L1307.05 725.7 L1309.04 733.23 L1311.04 740.55 L1313.03 747.67 L1315.03 754.56 L1317.02 761.22 L1319.02 767.63 L1321.01 773.81 L1323.01 779.74 L1325 785.42 L1326.99 790.86 L1328.99 796.06 L1330.98 801.01 L1332.98 805.73 L1334.97 810.22 L1336.97 814.49 L1338.96 818.54 L1340.96 822.38 L1342.95 826.02 L1344.95 829.47 L1346.94 832.73 L1348.94 835.81 L1350.93 838.71 L1352.93 841.46 L1354.92 844.04 L1356.91 846.48 L1358.91 848.77 L1360.9 850.93 L1362.9 852.96 L1364.89 854.87 L1366.89 856.66 L1368.88 858.33 L1370.88 859.91 L1372.87 861.38 L1374.87 862.77 L1376.86 864.07 L1378.86 865.29 L1380.85 866.45 L1382.85 867.53 L1384.84 868.56 L1386.83 869.54 L1388.83 870.46 L1390.82 871.34 L1392.82 872.17 L1394.81 872.96 L1396.81 873.71 L1398.8 874.43 L1400.8 875.12 L1402.79 875.78 L1404.79 876.41 L1406.78 877.01 L1408.78 877.59 L1410.77 878.15 L1412.77 878.69 L1414.76 879.2 L1416.75 879.71 L1418.75 880.19 L1420.74 880.66 L1422.74 881.12 L1424.73 881.56 L1426.73 881.99 L1428.72 882.41 L1430.72 882.82 L1432.71 883.22 L1434.71 883.6 L1436.7 883.99 L1438.7 884.36 L1440.69 884.72 L1442.69 885.08 L1444.68 885.43 L1446.67 885.77 L1448.67 886.11 L1450.66 886.44 L1452.66 886.77 L1454.65 887.09 L1456.65 887.41 L1458.64 887.72 L1460.64 888.02 L1462.63 888.32 L1464.63 888.62 L1466.62 888.91 L1468.62 889.19 L1470.61 889.47 L1472.61 889.75 L1474.6 890.02" stroke="#800080" stroke-width="2.1"/><path d="M875.6 890.55 L877.59 890.36 L879.58 890.16 L881.57 889.96 L883.56 889.75 L885.55 889.54 L887.54 889.32 L889.53 889.1 L891.52 888.87 L893.51 888.64 L895.5 888.4 L897.49 888.16 L899.48 887.91 L901.46 887.65 L903.45 887.38 L905.44 887.11 L907.43 886.83 L909.42 886.54 L911.41 886.24 L913.4 885.93 L915.39 885.61 L917.38 885.28 L919.37 884.94 L921.36 884.58 L923.35 884.21 L925.34 883.83 L927.33 883.43 L929.32 883.01 L931.31 882.58 L933.3 882.12 L935.29 881.65 L937.28 881.16 L939.27 880.64 L941.26 880.09 L943.25 879.52 L945.24 878.92 L947.23 878.29 L949.22 877.63 L951.21 876.93 L953.19 876.19 L955.18 875.41 L957.17 874.58 L959.16 873.71 L961.15 872.79 L963.14 871.8 L965.13 870.76 L967.12 869.65 L969.11 868.47 L971.1 867.22 L973.09 865.88 L975.08 864.45 L977.07 862.92 L979.06 861.29 L981.05 859.55 L983.04 857.69 L985.03 855.72 L987.02 853.61 L989.01 851.37 L991 848.99 L992.99 846.46 L994.98 843.77 L996.97 840.91 L998.96 837.89 L1000.95 834.68 L1002.93 831.29 L1004.92 827.69 L1006.91 823.9 L1008.9 819.9 L1010.89 815.67 L1012.88 811.22 L1014.87 806.54 L1016.86 801.62 L1018.85 796.45 L1020.84 791.04 L1022.83 785.37 L1024.82 779.46 L1026.81 773.28 L1028.8 766.86 L1030.79 760.18 L1032.78 753.25 L1034.77 746.08 L1036.76 738.68 L1038.75 731.05 L1040.74 723.2 L1042.73 715.17 L1044.72 706.95 L1046.71 698.57 L1048.7 690.06 L1050.69 681.44 L1052.68 672.74 L1054.66 664 L1056.65 655.24 L1058.64 646.52 L1060.63 637.87 L1062.62 629.33 L1064.61 620.95 L1066.6 612.79 L1068.59 604.89 L1070.58 597.3 L1072.57 590.08 L1074.27 581.5 L1080.86 565.51 L1086.25 549.23 L1092.24 541.83 L1100.42 543.9 L1106.51 548.64 L1113.2 553.97 L1119.19 551.3 L1123.89 559.3 L1130.67 564.03 L1137.36 569.36 L1144.05 574.98 L1152.24 578.24 L1158.93 575.58 L1165.62 582.98 L1172.3 584.16 L1178.1 581.2 L1186.08 581.2 L1193.47 577.65 L1199.56 571.43 L1205.65 569.95 L1211.64 566.4 L1219.03 564.33 L1225.82 559.3 L1231.81 564.03 L1235.9 557.52 L1240.59 554.56 L1245.98 549.23 L1251.97 547.75 L1260.06 550.42 L1264.85 557.52 L1267.94 565.81 L1270.24 573.8 L1274.93 591.27 L1276.93 596.76 L1278.93 602.75 L1280.92 609.2 L1282.92 616.05 L1284.92 623.25 L1286.91 630.75 L1288.91 638.5 L1290.91 646.45 L1292.9 654.56 L1294.9 662.78 L1296.9 671.07 L1298.89 679.38 L1300.89 687.69 L1302.89 695.95 L1304.88 704.14 L1306.88 712.23 L1308.88 720.19 L1310.87 728 L1312.87 735.64 L1314.87 743.08 L1316.86 750.33 L1318.86 757.36 L1320.86 764.17 L1322.85 770.74 L1324.85 777.08 L1326.85 783.18 L1328.84 789.03 L1330.84 794.64 L1332.84 800 L1334.83 805.13 L1336.83 810.02 L1338.83 814.67 L1340.82 819.1 L1342.82 823.31 L1344.82 827.3 L1346.81 831.07 L1348.81 834.65 L1350.81 838.03 L1352.8 841.21 L1354.8 844.22 L1356.8 847.05 L1358.79 849.7 L1360.79 852.2 L1362.79 854.54 L1364.78 856.74 L1366.78 858.8 L1368.78 860.72 L1370.77 862.52 L1372.77 864.2 L1374.77 865.77 L1376.76 867.23 L1378.76 868.59 L1380.76 869.86 L1382.75 871.03 L1384.75 872.13 L1386.75 873.14 L1388.74 874.07 L1390.74 874.94 L1392.74 875.74 L1394.73 876.47 L1396.73 877.15 L1398.73 877.78 L1400.72 878.36 L1402.72 878.9 L1404.72 879.4 L1406.71 879.88 L1408.71 880.32 L1410.71 880.74 L1412.7 881.14 L1414.7 881.51 L1416.7 881.88 L1418.69 882.22 L1420.69 882.56 L1422.69 882.88 L1424.68 883.19 L1426.68 883.5 L1428.68 883.81 L1430.67 884.1 L1432.67 884.4 L1434.67 884.69 L1436.66 884.99 L1438.66 885.28 L1440.66 885.58 L1442.65 885.87 L1444.65 886.16 L1446.65 886.46 L1448.64 886.75 L1450.64 887.05 L1452.64 887.34 L1454.63 887.63 L1456.63 887.93 L1458.63 888.22 L1460.62 888.51 L1462.62 888.8 L1464.62 889.09 L1466.61 889.38 L1468.61 889.66 L1470.61 889.94 L1472.6 890.22 L1474.6 890.5" stroke="#000" stroke-width="3.6" stroke-dasharray="3.8 5.1" stroke-linecap="butt"/></g>
<line x1="869.8" y1="448" x2="875.6" y2="448" stroke="#000" stroke-width="1.3"/>
<line x1="869.8" y1="892" x2="875.6" y2="892" stroke="#000" stroke-width="1.3"/>
<line x1="869.8" y1="388.8" x2="875.6" y2="388.8" stroke="#000" stroke-width="1.3"/>
<line x1="869.8" y1="832.8" x2="875.6" y2="832.8" stroke="#000" stroke-width="1.3"/>
<line x1="869.8" y1="329.6" x2="875.6" y2="329.6" stroke="#000" stroke-width="1.3"/>
<line x1="869.8" y1="773.6" x2="875.6" y2="773.6" stroke="#000" stroke-width="1.3"/>
<line x1="869.8" y1="270.4" x2="875.6" y2="270.4" stroke="#000" stroke-width="1.3"/>
<line x1="869.8" y1="714.4" x2="875.6" y2="714.4" stroke="#000" stroke-width="1.3"/>
<line x1="869.8" y1="211.2" x2="875.6" y2="211.2" stroke="#000" stroke-width="1.3"/>
<line x1="869.8" y1="655.2" x2="875.6" y2="655.2" stroke="#000" stroke-width="1.3"/>
<line x1="869.8" y1="152" x2="875.6" y2="152" stroke="#000" stroke-width="1.3"/>
<line x1="869.8" y1="596" x2="875.6" y2="596" stroke="#000" stroke-width="1.3"/>
<line x1="869.8" y1="92.8" x2="875.6" y2="92.8" stroke="#000" stroke-width="1.3"/>
<line x1="869.8" y1="536.8" x2="875.6" y2="536.8" stroke="#000" stroke-width="1.3"/>
<line x1="869.8" y1="33.6" x2="875.6" y2="33.6" stroke="#000" stroke-width="1.3"/>
<line x1="869.8" y1="477.6" x2="875.6" y2="477.6" stroke="#000" stroke-width="1.3"/>
<line x1="875.6" y1="892" x2="875.6" y2="897.6" stroke="#000" stroke-width="1.3"/>
<line x1="975.43" y1="892" x2="975.43" y2="897.6" stroke="#000" stroke-width="1.3"/>
<line x1="1075.27" y1="892" x2="1075.27" y2="897.6" stroke="#000" stroke-width="1.3"/>
<line x1="1175.1" y1="892" x2="1175.1" y2="897.6" stroke="#000" stroke-width="1.3"/>
<line x1="1274.93" y1="892" x2="1274.93" y2="897.6" stroke="#000" stroke-width="1.3"/>
<line x1="1374.77" y1="892" x2="1374.77" y2="897.6" stroke="#000" stroke-width="1.3"/>
<line x1="1474.6" y1="892" x2="1474.6" y2="897.6" stroke="#000" stroke-width="1.3"/>
<rect x="1271" y="14.7" width="193.8" height="122.4" rx="3.5" fill="#fff" stroke="#d3d3d3" stroke-width="1.8"/>
<line x1="1278.2" y1="30.6" x2="1319.9" y2="30.6" stroke="#ffa500" stroke-width="2.1"/>
<line x1="1278.2" y1="59.7" x2="1319.9" y2="59.7" stroke="#008000" stroke-width="2.1"/>
<line x1="1278.2" y1="88.8" x2="1319.9" y2="88.8" stroke="#800080" stroke-width="2.1"/>
<line x1="1279" y1="117.9" x2="1319.9" y2="117.9" stroke="#000" stroke-width="3.6" stroke-dasharray="3.8 5.1"/>
<rect x="1296.2" y="457.2" width="169.7" height="107.7" rx="3.5" fill="#fff" stroke="#d3d3d3" stroke-width="1.8"/>
<line x1="1302.3" y1="471.3" x2="1338.8" y2="471.3" stroke="#ffa500" stroke-width="2.1"/>
<line x1="1302.3" y1="496.6" x2="1338.8" y2="496.6" stroke="#008000" stroke-width="2.1"/>
<line x1="1302.3" y1="522.3" x2="1338.8" y2="522.3" stroke="#800080" stroke-width="2.1"/>
<line x1="1303.1" y1="547.8" x2="1338.8" y2="547.8" stroke="#000" stroke-width="3.6" stroke-dasharray="3.8 5.1"/>
<rect x="875.7" y="4.8" width="599" height="443.2" fill="none" stroke="#000" stroke-width="1.3"/>
<rect x="875.6" y="448" width="599" height="444" fill="none" stroke="#000" stroke-width="1.3"/>
<rect x="846.9" y="919" width="13.1" height="2.0" fill="#000"/>
<rect x="946.9" y="920.4" width="13" height="2.0" fill="#000"/>
<rect x="1047" y="920" width="13.4" height="2.0" fill="#000"/>
<rect x="9.3" y="624.9" width="1.9" height="12.7" fill="#000"/>
<g opacity="0.999" font-family="&quot;Liberation Sans&quot;, sans-serif" fill="#000" stroke="#000" stroke-linejoin="round"><text x="61.79" y="413" font-size="29.286" stroke-width="0.351" textLength="35.378" lengthAdjust="spacingAndGlyphs">26</text><text x="61.9" y="324.4" font-size="29.286" stroke-width="0.351" textLength="35.242" lengthAdjust="spacingAndGlyphs">28</text><text x="61.851" y="236" font-size="29.286" stroke-width="0.351" textLength="34.248" lengthAdjust="spacingAndGlyphs">30</text><text x="61.916" y="147.6" font-size="29.286" stroke-width="0.351" textLength="35.242" lengthAdjust="spacingAndGlyphs">32</text><text x="61.876" y="59.2" font-size="29.286" stroke-width="0.351" textLength="34.167" lengthAdjust="spacingAndGlyphs">34</text><text x="46.784" y="867.8" font-size="29.286" stroke-width="0.351" textLength="34.276" lengthAdjust="spacingAndGlyphs">10</text><text x="82.195" y="857.5" font-size="20.857" stroke-width="0.25" textLength="11.924" lengthAdjust="spacingAndGlyphs">1</text><text x="46.784" y="731.8" font-size="29.286" stroke-width="0.351" textLength="34.276" lengthAdjust="spacingAndGlyphs">10</text><text x="82.622" y="721.5" font-size="20.857" stroke-width="0.25" textLength="11.515" lengthAdjust="spacingAndGlyphs">2</text><text x="46.784" y="596.1" font-size="29.286" stroke-width="0.351" textLength="34.276" lengthAdjust="spacingAndGlyphs">10</text><text x="80.639" y="585.8" font-size="20.857" stroke-width="0.25" textLength="13.757" lengthAdjust="spacingAndGlyphs">3</text><text x="141.759" y="923.9" font-size="29.286" stroke-width="0.351" textLength="17.366" lengthAdjust="spacingAndGlyphs">0</text><text x="253.711" y="923.9" font-size="29.286" stroke-width="0.351" textLength="17.59" lengthAdjust="spacingAndGlyphs">2</text><text x="365.939" y="923.9" font-size="29.286" stroke-width="0.351" textLength="16.126" lengthAdjust="spacingAndGlyphs">4</text><text x="476.685" y="923.9" font-size="29.286" stroke-width="0.351" textLength="18.607" lengthAdjust="spacingAndGlyphs">6</text><text x="589.775" y="923.9" font-size="29.286" stroke-width="0.351" textLength="17.444" lengthAdjust="spacingAndGlyphs">8</text><text x="691.817" y="923.9" font-size="29.286" stroke-width="0.351" textLength="35.326" lengthAdjust="spacingAndGlyphs">10</text><text x="216.975" y="961.4" font-size="29.797" stroke-width="0.358" textLength="426.05" lengthAdjust="spacingAndGlyphs">Number of peptides in system</text><text x="610.931" y="37.8" font-size="23.983" stroke-width="0.288" textLength="60.131" lengthAdjust="spacingAndGlyphs">POPC</text><text x="610.979" y="69.8" font-size="23.983" stroke-width="0.288" textLength="113.046" lengthAdjust="spacingAndGlyphs">chol:POPC</text><text x="199.929" y="486.9" font-size="23.837" stroke-width="0.286" textLength="61.133" lengthAdjust="spacingAndGlyphs">POPC</text><text x="199.983" y="518.6" font-size="23.837" stroke-width="0.286" textLength="115.04" lengthAdjust="spacingAndGlyphs">chol:POPC</text><text x="828.808" y="47.2" font-size="31.429" stroke-width="0.377" textLength="35.302" lengthAdjust="spacingAndGlyphs">14</text><text x="829.655" y="105.2" font-size="31.429" stroke-width="0.377" textLength="36.496" lengthAdjust="spacingAndGlyphs">12</text><text x="830.782" y="161.4" font-size="31.429" stroke-width="0.377" textLength="36.315" lengthAdjust="spacingAndGlyphs">10</text><text x="844.766" y="219.5" font-size="31.429" stroke-width="0.377" textLength="22.401" lengthAdjust="spacingAndGlyphs">8</text><text x="845.706" y="278.6" font-size="31.429" stroke-width="0.377" textLength="21.453" lengthAdjust="spacingAndGlyphs">6</text><text x="845.896" y="337.2" font-size="31.429" stroke-width="0.377" textLength="18.277" lengthAdjust="spacingAndGlyphs">4</text><text x="845.645" y="396.5" font-size="31.429" stroke-width="0.377" textLength="17.566" lengthAdjust="spacingAndGlyphs">2</text><text x="827.715" y="489.8" font-size="31.429" stroke-width="0.377" textLength="37.349" lengthAdjust="spacingAndGlyphs">14</text><text x="830.809" y="547.8" font-size="31.429" stroke-width="0.377" textLength="35.337" lengthAdjust="spacingAndGlyphs">12</text><text x="830.774" y="604.1" font-size="31.429" stroke-width="0.377" textLength="36.404" lengthAdjust="spacingAndGlyphs">10</text><text x="846.814" y="662.4" font-size="31.429" stroke-width="0.377" textLength="17.466" lengthAdjust="spacingAndGlyphs">8</text><text x="845.717" y="721" font-size="31.429" stroke-width="0.377" textLength="18.614" lengthAdjust="spacingAndGlyphs">6</text><text x="846.915" y="779.9" font-size="31.429" stroke-width="0.377" textLength="16.155" lengthAdjust="spacingAndGlyphs">4</text><text x="846.691" y="839.4" font-size="31.429" stroke-width="0.377" textLength="16.589" lengthAdjust="spacingAndGlyphs">2</text><text x="849.801" y="900" font-size="31.429" stroke-width="0.377" textLength="17.341" lengthAdjust="spacingAndGlyphs">0</text><text x="862.893" y="926.4" font-size="31.429" stroke-width="0.377" textLength="36.202" lengthAdjust="spacingAndGlyphs">30</text><text x="961.858" y="927.8" font-size="31.429" stroke-width="0.377" textLength="37.251" lengthAdjust="spacingAndGlyphs">20</text><text x="1062.772" y="926.9" font-size="31.429" stroke-width="0.377" textLength="36.393" lengthAdjust="spacingAndGlyphs">10</text><text x="1165.855" y="924.6" font-size="31.429" stroke-width="0.377" textLength="17.444" lengthAdjust="spacingAndGlyphs">0</text><text x="1257.779" y="924.7" font-size="31.429" stroke-width="0.377" textLength="37.323" lengthAdjust="spacingAndGlyphs">10</text><text x="1357.864" y="924.2" font-size="31.429" stroke-width="0.377" textLength="36.291" lengthAdjust="spacingAndGlyphs">20</text><text x="1456.95" y="923.1" font-size="31.429" stroke-width="0.377" textLength="35.168" lengthAdjust="spacingAndGlyphs">30</text><text x="891.878" y="51.3" font-size="46.802" stroke-width="0.562" textLength="117.196" lengthAdjust="spacingAndGlyphs">POPC</text><text x="881.957" y="494.7" font-size="46.221" stroke-width="0.555" textLength="224.084" lengthAdjust="spacingAndGlyphs">chol:POPC</text><text x="1154.94" y="962.3" font-size="31.25" stroke-width="0.375" textLength="46.064" lengthAdjust="spacingAndGlyphs">z,Å</text><text x="1333.912" y="37.8" font-size="21.076" stroke-width="0.253" textLength="56.16" lengthAdjust="spacingAndGlyphs">10 FP</text><text x="1334.917" y="66.9" font-size="21.076" stroke-width="0.253" textLength="43.14" lengthAdjust="spacingAndGlyphs">6 FP</text><text x="1333.908" y="96" font-size="21.076" stroke-width="0.253" textLength="43.166" lengthAdjust="spacingAndGlyphs">1 FP</text><text x="1333.951" y="125.1" font-size="21.076" stroke-width="0.253" textLength="122.064" lengthAdjust="spacingAndGlyphs">Peptide-free</text><text x="1351.945" y="477.9" font-size="18.75" stroke-width="0.225" textLength="48.089" lengthAdjust="spacingAndGlyphs">10 FP</text><text x="1351.947" y="503.3" font-size="18.75" stroke-width="0.225" textLength="37.094" lengthAdjust="spacingAndGlyphs">6 FP</text><text x="1351.901" y="528.9" font-size="18.75" stroke-width="0.225" textLength="37.151" lengthAdjust="spacingAndGlyphs">1 FP</text><text x="1350.969" y="554.4" font-size="18.75" stroke-width="0.225" textLength="108.07" lengthAdjust="spacingAndGlyphs">Peptide-free</text><text transform="translate(40.9 445.019) rotate(-90)" x="0" y="0" font-size="29.506" stroke-width="0.354" textLength="438.028" lengthAdjust="spacingAndGlyphs">Bilayer hydophobic thickness, Å</text><text transform="translate(26.9 723.072) rotate(-90)" x="0" y="0" font-size="29.36" stroke-width="0.352" textLength="80.084" lengthAdjust="spacingAndGlyphs">1/R, Å</text><text transform="translate(16.8 622.62) rotate(-90)" x="0" y="0" font-size="21.221" stroke-width="0.255" textLength="11.093" lengthAdjust="spacingAndGlyphs">1</text><text transform="translate(822 262.059) rotate(-90)" x="0" y="0" font-size="31.686" stroke-width="0.38" textLength="108.08" lengthAdjust="spacingAndGlyphs">F(z), kT</text><text transform="translate(828.2 707.074) rotate(-90)" x="0" y="0" font-size="31.686" stroke-width="0.38" textLength="108.098" lengthAdjust="spacingAndGlyphs">F(z), kT</text></g></svg>
</body></html>
